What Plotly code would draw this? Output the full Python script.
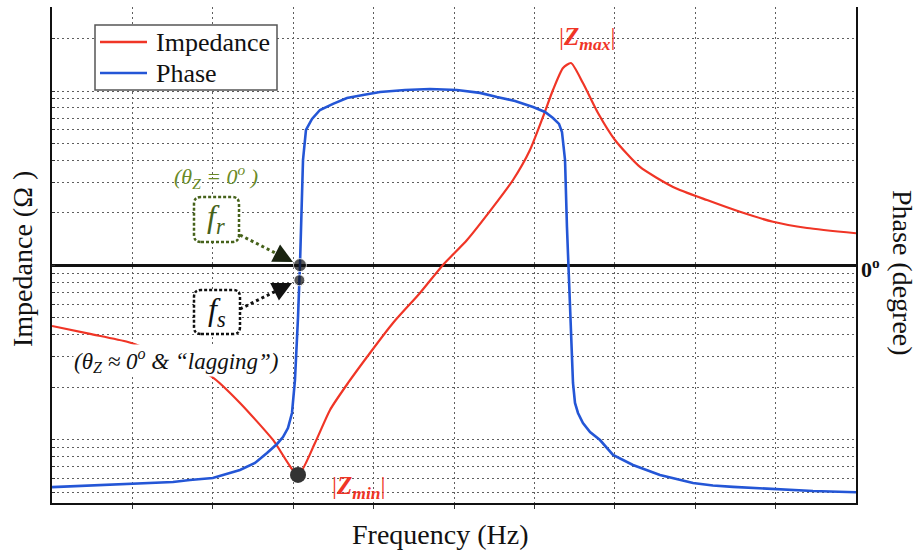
import numpy as np
import plotly.graph_objects as go

# ---------------- data ----------------
freq_imp = [0, 0.473, 0.945, 1.468, 1.99, 2.338, 2.749, 3.06, 3.271, 3.458, 3.682, 3.955,
            4.241, 4.577, 4.863, 5.162, 5.485, 5.734, 5.945, 6.107, 6.231, 6.356, 6.455,
            6.604, 6.791, 7.002, 7.313, 7.724, 8.147, 8.557, 8.968, 9.391, 10.0]
impedance = [45.0, 40.5, 36.4, 29.5, 23.0, 16.3, 10.0, 6.30, 9.61, 14.86, 21.2, 31.5,
             46.8, 69.6, 100.7, 140, 216, 309, 459, 710, 1013, 1355, 1447,
             1111, 748, 524, 367, 282, 237, 203, 178, 164, 153]

freq_phase = [0, 1.007, 1.505, 1.716, 2.0, 2.338, 2.525, 2.674, 2.799, 2.873, 2.935, 2.985,
              3.022, 3.06, 3.085, 3.122, 3.159, 3.234, 3.333, 3.495, 3.669, 3.868, 4.08,
              4.391, 4.701, 5.037, 5.323, 5.535, 5.759, 5.983, 6.132, 6.231, 6.306, 6.343,
              6.381, 6.405, 6.43, 6.48, 6.505, 6.542, 6.604, 6.692, 6.816, 6.978, 7.226,
              7.388, 7.562, 7.973, 8.22, 8.47, 8.968, 9.465, 10.0]
phase = [-113.0, -111.4, -110.4, -109.4, -108.4, -104.3, -100.7, -95.6, -91.0, -87.5, -82.9, -75.2,
         -58.4, -26.3, 1.3, 53.8, 69.1, 74.7, 79.3, 82.4, 85.4, 86.9, 88.5,
         89.5, 90.0, 89.5, 88.0, 85.9, 83.9, 80.8, 78.3, 75.2, 72.2, 68.1,
         53.8, 19.6, -7.4, -59.9, -70.1, -75.2, -80.3, -84.9, -89.0, -96.6, -101.7,
         -104.3, -106.8, -110.9, -112.2, -112.9, -114.0, -115.0, -115.6]

# characteristic frequencies (fs, fr) on the rising phase edge
resonance_freq = [3.077, 3.084]

series_names = ["Impedance", "Phase"]

# axis settings
x_grid = [1, 2, 3, 4, 5, 6, 7, 8, 9]
imp_grid = [m * 10 ** e for e in range(0, 4) for m in range(1, 10) if 4 <= m * 10 ** e <= 3000]
imp_range = [np.log10(4.35), np.log10(3030)]
phase_range = [-121.1, 131.8]

# ---------------- layout helpers (pixel -> paper) ----------------
L, R, T, B = 52, 856, 7, 503
W, H = R - L, B - T
def PX(p):
    return (p - L) / W
def PY(p):
    return (B - p) / H

FONT = "Liberation Serif"
RED = "#f03526"
BLUE = "#2456d6"
GREEN_T = "#6a8a26"
GREEN_D = "#46621a"
COLORS = [RED, BLUE]

fig = go.Figure()
fig.add_trace(go.Scatter(x=freq_imp, y=impedance, mode="lines", name=series_names[0],
                         line=dict(color=RED, width=2.2, shape="spline", smoothing=0.6),
                         yaxis="y", showlegend=False))
fig.add_trace(go.Scatter(x=freq_phase, y=phase, mode="lines", name=series_names[1],
                         line=dict(color=BLUE, width=2.6), yaxis="y2", showlegend=False))

# points on the phase curve
xs = np.array(freq_phase[9:18]); ps = np.array(phase[9:18])
res_ph = [float(np.interp(f, xs, ps)) for f in resonance_freq]
fig.add_trace(go.Scatter(x=resonance_freq, y=res_ph, mode="markers", showlegend=False,
                         marker=dict(color="#111", size=[11, 13]), yaxis="y2"))
imin = int(np.argmin(impedance))
fig.add_trace(go.Scatter(x=[freq_imp[imin]], y=[impedance[imin]], mode="markers",
                         showlegend=False, marker=dict(color="#333", size=16), yaxis="y"))

grid = dict(showgrid=True, gridcolor="#5e5e5e", gridwidth=1, griddash="2px,3px")

fig.update_layout(
    width=920, height=552,
    margin=dict(l=L, r=920 - R, t=T, b=552 - B),
    plot_bgcolor="white", paper_bgcolor="white",
    font=dict(family=FONT, color="#111"),
    xaxis=dict(range=[0, 10], tickvals=x_grid, showticklabels=False, zeroline=False,
               showline=True, linecolor="#111", linewidth=2, ticks="outside", ticklen=4,
               tickcolor="#333", **grid),
    yaxis=dict(type="log", range=imp_range, tickvals=imp_grid, showticklabels=False,
               showline=True, linecolor="#111", linewidth=2, ticks="inside", ticklen=3,
               tickcolor="#333", zeroline=False, **grid),
    yaxis2=dict(overlaying="y", side="right", range=phase_range, showgrid=False,
                showticklabels=False, zeroline=True, zerolinecolor="#111", zerolinewidth=2.5,
                showline=True, linecolor="#111", linewidth=2),
    showlegend=False,
)

# ---------------- legend box (drawn) ----------------
fig.add_shape(type="rect", xref="paper", yref="paper", x0=PX(95), x1=PX(277),
              y0=PY(90), y1=PY(25), line=dict(color="#555", width=1.5), fillcolor="white")
for i, (nm, col) in enumerate(zip(series_names, COLORS)):
    yy = 42 + 31 * i
    fig.add_shape(type="line", xref="paper", yref="paper", x0=PX(100), x1=PX(147),
                  y0=PY(yy), y1=PY(yy), line=dict(color=col, width=2.6))
    fig.add_annotation(x=PX(154), y=PY(yy), xref="paper", yref="paper", text=nm,
                       showarrow=False, xanchor="left", yanchor="middle",
                       font=dict(family=FONT, size=26, color="#111"))

def rounded_box(x0, y0, x1, y1, r, color):
    a0, a1 = PX(x0), PX(x1)
    b0, b1 = PY(y1), PY(y0)  # bottom, top in paper
    rx, ry = r / W, r / H
    path = (f"M {a0+rx},{b0} L {a1-rx},{b0} Q {a1},{b0} {a1},{b0+ry} "
            f"L {a1},{b1-ry} Q {a1},{b1} {a1-rx},{b1} L {a0+rx},{b1} "
            f"Q {a0},{b1} {a0},{b1-ry} L {a0},{b0+ry} Q {a0},{b0} {a0+rx},{b0} Z")
    fig.add_shape(type="path", path=path, xref="paper", yref="paper",
                  line=dict(color=color, width=2.5, dash="3px,2px"), fillcolor="white")

rounded_box(194, 197, 239, 242, 7, GREEN_D)
rounded_box(194, 290, 240, 334, 7, "#111")

# dotted arrows
def dotted_arrow(x0, y0, x1, y1, color, headcolor):
    d = np.hypot(x1 - x0, y1 - y0)
    ux, uy = (x1 - x0) / d, (y1 - y0) / d
    fig.add_shape(type="line", xref="paper", yref="paper",
                  x0=PX(x0), y0=PY(y0), x1=PX(x1 - ux * 10), y1=PY(y1 - uy * 10),
                  line=dict(color=color, width=3, dash="3px,3px"))
    fig.add_annotation(x=PX(x1), y=PY(y1), xref="paper", yref="paper", text="",
                       showarrow=True, arrowhead=2, arrowsize=1.3, arrowwidth=3,
                       arrowcolor=headcolor, ax=-ux * 14, ay=-uy * 14)

dotted_arrow(240, 235, 293, 262, GREEN_D, "#1a2410")
dotted_arrow(240, 309, 292, 283, "#111", "#111")

def note(px, py, text, size, color="#111", **kw):
    fig.add_annotation(x=PX(px), y=PY(py), xref="paper", yref="paper", text=text,
                       showarrow=False, font=dict(family=FONT, size=size, color=color),
                       xanchor="center", yanchor="middle", **kw)

note(216, 176, "<i>(θ<sub>Z</sub> = 0<sup>o</sup> )</i>", 22, GREEN_T)
note(216, 218, "<i>f<sub>r</sub></i>", 32, GREEN_D)
note(217, 311, "<i>f<sub>s</sub></i>", 32, "#111")
note(176, 361, "<i>(θ<sub>Z</sub> ≈ 0<sup>o</sup> &amp; “lagging”)</i>", 23, "#111",
     bgcolor="white", borderpad=0)
note(587, 38, "|<b><i>Z<sub>max</sub></i></b>|", 25, RED)
note(359, 487, "|<b><i>Z<sub>min</sub></i></b>|", 25, RED)
note(870, 268, "<b>0<sup>o</sup></b>", 22, "#111")
note(440, 534, "Frequency (Hz)", 28, "#111")
note(22, 259, "Impedance (Ω )", 28, "#111", textangle=-90)
note(903, 273, "Phase (degree)", 28, "#111", textangle=90)

fig.write_html("out.html")
